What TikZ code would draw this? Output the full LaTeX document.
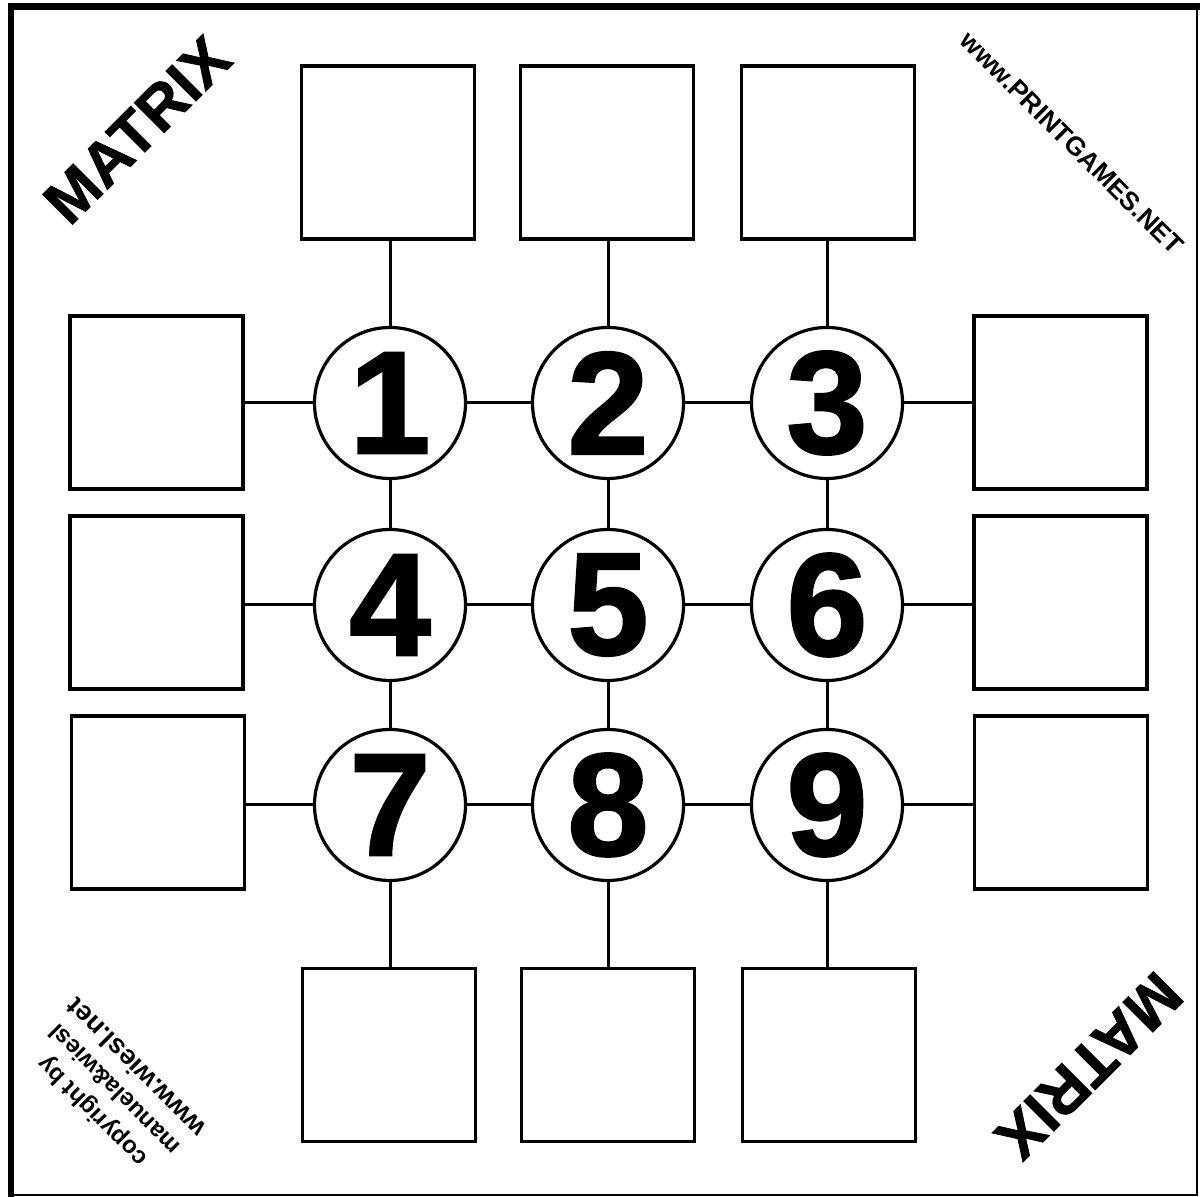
\documentclass[tikz,border=0pt]{standalone}
\usepackage{fontspec}
\setmainfont{Liberation Sans}
\newfontfamily\digitfont{Liberation Sans Bold}[FakeBold=1.6]
\newfontfamily\titlefont{Liberation Sans Bold}[FakeBold=1.2]
\begin{document}
\begin{tikzpicture}[x=0.5pt,y=0.5pt,
  cellbox/.style={draw, line width=1.6pt, minimum size=86.5pt, inner sep=0pt},
  numcirc/.style={draw, circle, line width=1.6pt, minimum size=75.5pt, inner sep=0pt,
    font=\digitfont\fontsize{73}{73}\selectfont},
  link/.style={line width=1.5pt},
  title/.style={font=\titlefont\fontsize{31}{31}\selectfont, inner sep=0pt},
  smalltxt/.style={font=\bfseries\fontsize{12}{15.9}\selectfont, inner sep=0pt, align=center}]
\useasboundingbox (0,0) rectangle (1203,1197);
% frame
\coordinate (fbl) at (11,2);
\coordinate (fbr) at (1197,2);
\coordinate (ftr) at (1197,1190.5);
\coordinate (ftl) at (11,1190.5);
\draw[line width=1pt] (fbl) -- (fbr) -- (ftr);
\draw[line width=3.2pt, line cap=rect] (fbl) -- (ftl) -- (ftr);
% circles
\node[numcirc] (c1) at (390,794) {1};
\node[numcirc] (c2) at (608,794) {2};
\node[numcirc] (c3) at (827,794) {3};
\node[numcirc] (c4) at (390,592) {4};
\node[numcirc] (c5) at (608,592) {5};
\node[numcirc] (c6) at (827,592) {6};
\node[numcirc] (c7) at (390,392) {7};
\node[numcirc] (c8) at (608,392) {8};
\node[numcirc] (c9) at (827,392) {9};
% boxes
\node[cellbox] (t1) at (388,1044.5) {};
\node[cellbox] (t2) at (607,1044.5) {};
\node[cellbox] (t3) at (828,1044.5) {};
\node[cellbox] (b1) at (389,142) {};
\node[cellbox] (b2) at (608,142) {};
\node[cellbox] (b3) at (829,142) {};
\node[cellbox] (l1) at (156.5,794.5) {};
\node[cellbox] (l2) at (156.5,594.5) {};
\node[cellbox] (l3) at (158,394.5) {};
\node[cellbox] (r1) at (1060.5,794.5) {};
\node[cellbox] (r2) at (1060.5,594.5) {};
\node[cellbox] (r3) at (1061,394.5) {};
% connectors
\draw[link] (c1) -- (c2); \draw[link] (c2) -- (c3);
\draw[link] (c4) -- (c5); \draw[link] (c5) -- (c6);
\draw[link] (c7) -- (c8); \draw[link] (c8) -- (c9);
\draw[link] (c1) -- (c4); \draw[link] (c4) -- (c7);
\draw[link] (c2) -- (c5); \draw[link] (c5) -- (c8);
\draw[link] (c3) -- (c6); \draw[link] (c6) -- (c9);
\draw[link] (c1.north) -- (c1.north |- t1.south);
\draw[link] (c2.north) -- (c2.north |- t2.south);
\draw[link] (c3.north) -- (c3.north |- t3.south);
\draw[link] (c7.south) -- (c7.south |- b1.north);
\draw[link] (c8.south) -- (c8.south |- b2.north);
\draw[link] (c9.south) -- (c9.south |- b3.north);
\draw[link] (c1.west) -- (c1.west -| l1.east);
\draw[link] (c4.west) -- (c4.west -| l2.east);
\draw[link] (c7.west) -- (c7.west -| l3.east);
\draw[link] (c3.east) -- (c3.east -| r1.west);
\draw[link] (c6.east) -- (c6.east -| r2.west);
\draw[link] (c9.east) -- (c9.east -| r3.west);
% texts
\node[title, rotate=45] (m1) at (137,1067) {MATRIX};
\node[title, rotate=225] (m2) at (1089,131) {MATRIX};
\node[font=\bfseries\fontsize{13.1}{13.1}\selectfont, inner sep=0pt, rotate=-45] (web) at (1072,1054) {www.PRINTGAMES.NET};
\node[smalltxt, rotate=135] (cp) at (114,107) {copyright by\\manuela\&wiesl\\\fontsize{13.5}{15.9}\selectfont www.wiesl.net};
\end{tikzpicture}
\end{document}
